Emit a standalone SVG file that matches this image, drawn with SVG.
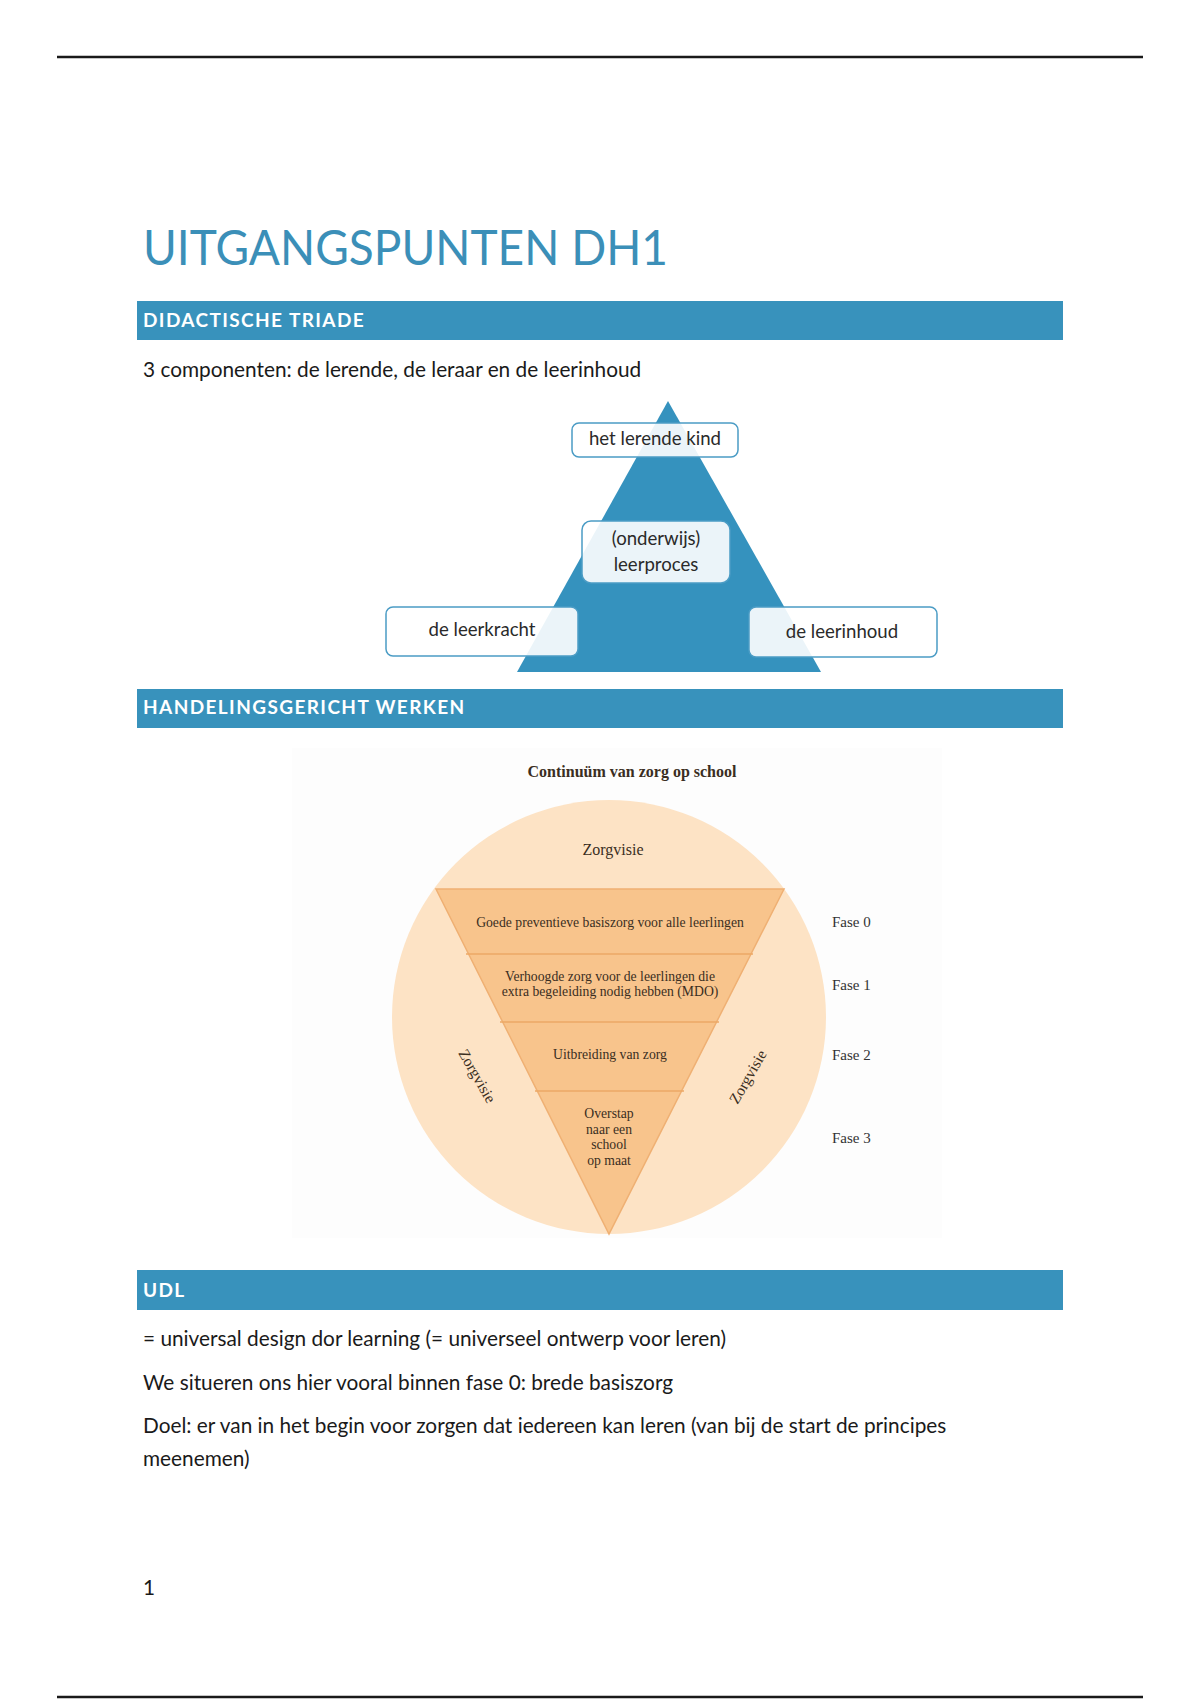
<svg xmlns="http://www.w3.org/2000/svg" width="1200" height="1700" viewBox="0 0 1200 1700">
<style>
.rule{stroke:#1a1a1a;stroke-width:2.5}
.bar{fill:#3892bc}
.bartxt{font-family:Lato,"Liberation Sans",sans-serif;font-weight:bold;font-size:19px;fill:#ffffff;letter-spacing:1.4px}
.body{font-family:Lato,"Liberation Sans",sans-serif;font-size:20.8px;fill:#1a1a1a}
.box{fill:#ffffff;fill-opacity:0.9;stroke:#4b9cc5;stroke-width:1.5}
.boxtxt{font-family:Lato,"Liberation Sans",sans-serif;font-size:18.6px;fill:#2a2a2a;text-anchor:middle}
.ser{font-family:"Liberation Serif",serif;fill:#3a2e22;text-anchor:middle}
.fase{font-family:"Liberation Serif",serif;font-size:15px;fill:#333333}
.band{stroke:#eda866;stroke-width:1.5}
</style>
<rect width="1200" height="1700" fill="#ffffff"/>
<line class="rule" x1="57" y1="57" x2="1143" y2="57"/>
<line class="rule" x1="57" y1="1697" x2="1143" y2="1697"/>

<text x="143" y="265" font-family="Lato,'Liberation Sans',sans-serif" font-size="49" fill="#3b8fb8" textLength="525" lengthAdjust="spacingAndGlyphs">UITGANGSPUNTEN DH1</text>

<g id="section1">
<rect class="bar" x="137" y="301" width="926" height="39"/>
<text class="bartxt" x="143" y="327">DIDACTISCHE TRIADE</text>
</g>
<text class="body" x="143" y="377">3 componenten: de lerende, de leraar en de leerinhoud</text>

<g id="triade">
<polygon points="668,401 517,672 821,672" fill="#3592be"/>
<g id="node-kind">
<rect class="box" x="572" y="423" width="166" height="34" rx="7"/>
<text class="boxtxt" x="655" y="445">het lerende kind</text>
</g>
<g id="node-leerproces">
<rect class="box" x="582" y="521" width="148" height="62" rx="9"/>
<text class="boxtxt" x="656" y="545">(onderwijs)</text>
<text class="boxtxt" x="656" y="571">leerproces</text>
</g>
<g id="node-leerkracht">
<rect class="box" x="386" y="607" width="192" height="49" rx="7"/>
<text class="boxtxt" x="482" y="636">de leerkracht</text>
</g>
<g id="node-leerinhoud">
<rect class="box" x="749" y="607" width="188" height="50" rx="7"/>
<text class="boxtxt" x="842" y="638">de leerinhoud</text>
</g>
</g>

<g id="section2">
<rect class="bar" x="137" y="689" width="926" height="39"/>
<text class="bartxt" x="143" y="714">HANDELINGSGERICHT WERKEN</text>
</g>

<g id="continuum">
<rect x="292" y="748" width="650" height="490" fill="#fdfdfd"/>
<text class="ser" x="632" y="777" font-size="16" font-weight="bold" fill="#222222">Continuüm van zorg op school</text>
<circle cx="609" cy="1017" r="217" fill="#fde3c5"/>
<text class="ser" x="613" y="855" font-size="16">Zorgvisie</text>
<polygon points="436,889 784,889 609,1234" fill="#f8c48c" stroke="#efb073" stroke-width="1.5"/>
<line class="band" x1="466" y1="954" x2="753" y2="954"/>
<line class="band" x1="500" y1="1022" x2="719" y2="1022"/>
<line class="band" x1="535" y1="1091" x2="684" y2="1091"/>
<text class="ser" x="610" y="927" font-size="13.7">Goede preventieve basiszorg voor alle leerlingen</text>
<text class="ser" x="610" y="981" font-size="13.7">Verhoogde zorg voor de leerlingen die</text>
<text class="ser" x="610" y="996" font-size="13.7">extra begeleiding nodig hebben (MDO)</text>
<text class="ser" x="610" y="1059" font-size="13.7">Uitbreiding van zorg</text>
<text class="ser" x="609" y="1118" font-size="13.7">Overstap</text>
<text class="ser" x="609" y="1134" font-size="13.7">naar een</text>
<text class="ser" x="609" y="1149" font-size="13.7">school</text>
<text class="ser" x="609" y="1165" font-size="13.7">op maat</text>
<text class="ser" font-size="15.5" transform="translate(477,1076) rotate(60)" y="5">Zorgvisie</text>
<text class="ser" font-size="15.5" transform="translate(748,1077) rotate(-60)" y="5">Zorgvisie</text>
<text class="fase" x="832" y="927">Fase 0</text>
<text class="fase" x="832" y="990">Fase 1</text>
<text class="fase" x="832" y="1060">Fase 2</text>
<text class="fase" x="832" y="1143">Fase 3</text>
</g>

<g id="section3">
<rect class="bar" x="137" y="1270" width="926" height="40"/>
<text class="bartxt" x="143" y="1297">UDL</text>
</g>
<text class="body" x="143" y="1346">= universal design dor learning (= universeel ontwerp voor leren)</text>
<text class="body" x="143" y="1390">We situeren ons hier vooral binnen fase 0: brede basiszorg</text>
<text class="body" x="143" y="1433">Doel: er van in het begin voor zorgen dat iedereen kan leren (van bij de start de principes</text>
<text class="body" x="143" y="1466">meenemen)</text>
<text class="body" x="143" y="1595">1</text>
</svg>
